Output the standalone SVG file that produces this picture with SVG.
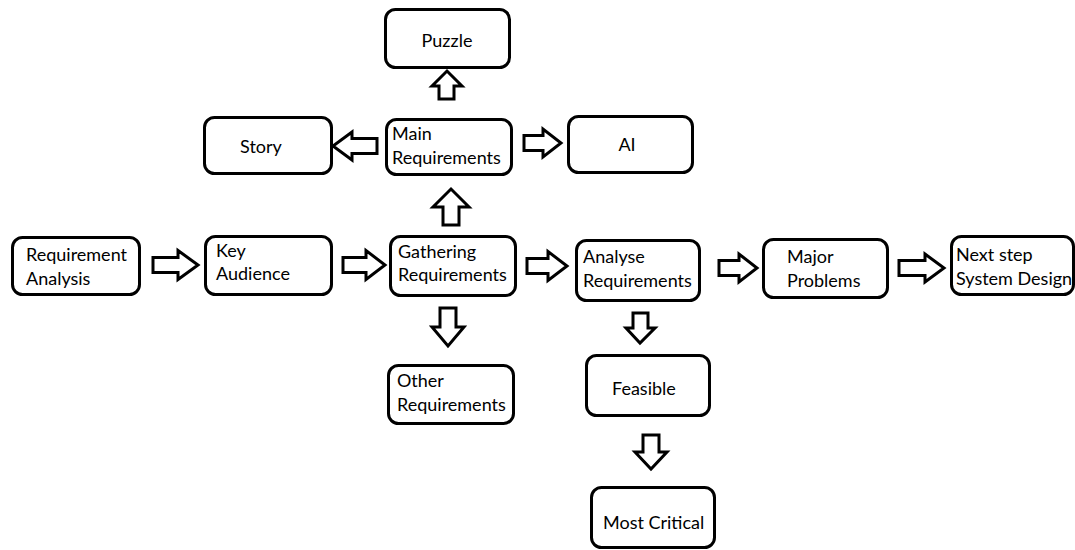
<svg xmlns="http://www.w3.org/2000/svg" width="1075" height="550" viewBox="0 0 1075 550">
<style>
.box{fill:#fff;stroke:#000;stroke-width:3}
.arr{fill:#fff;stroke:#000;stroke-width:3;stroke-linejoin:miter}
text{font-family:Lato,"Liberation Sans",sans-serif;font-size:18px;fill:#000}
.c{text-anchor:middle}
</style>
<rect width="1075" height="550" fill="#fff"/>
<g id="connectors">
<path class="arr" d="M153,257.5 H178 V250.5 L198,265 L178,279.5 V272.5 H153 Z"/>
<path class="arr" d="M343,257.5 H366 V250.5 L385,265 L366,279.5 V272.5 H343 Z"/>
<path class="arr" d="M527,258.5 H548 V251.5 L567,266 L548,280.5 V273.5 H527 Z"/>
<path class="arr" d="M719,260.5 H739 V254 L757,268 L739,282 V275.5 H719 Z"/>
<path class="arr" d="M899,260.5 H925 V254 L944,268 L925,282 V275.5 H899 Z"/>
<path class="arr" d="M524,135.5 H543 V129 L561,143 L543,157 V150.5 H524 Z"/>
<path class="arr" d="M377,138.5 H352 V132 L333,146 L352,160 V153.5 H377 Z"/>
<path class="arr" d="M443,225 V207 H433 L451,189 L469,207 H459 V225 Z"/>
<path class="arr" d="M439,99 V86 H432 L447,71 L462,86 H454 V99 Z"/>
<path class="arr" d="M440,308 V327 H432 L448,346 L464,327 H456 V308 Z"/>
<path class="arr" d="M633,313 V328 H626 L640,343 L655,328 H648 V313 Z"/>
<path class="arr" d="M643,435 V452 H635 L651,469 L667,452 H659 V435 Z"/>
</g>
<g id="puzzle"><rect class="box" x="385.5" y="9.5" width="124" height="58" rx="10"/><text class="c" x="447" y="47">Puzzle</text></g>
<g id="story"><rect class="box" x="204.5" y="117.5" width="127" height="56" rx="10"/><text class="c" x="261" y="153">Story</text></g>
<g id="main"><rect class="box" x="386.5" y="119.5" width="125" height="55" rx="10"/><text x="392" y="140">Main</text><text x="392" y="164">Requirements</text></g>
<g id="ai"><rect class="box" x="568.5" y="116.5" width="124" height="56" rx="10"/><text class="c" x="627" y="151">AI</text></g>
<g id="reqanalysis"><rect class="box" x="12.5" y="237.5" width="127" height="57" rx="10"/><text x="26" y="261">Requirement</text><text x="26" y="285">Analysis</text></g>
<g id="keyaudience"><rect class="box" x="205.5" y="236.5" width="126" height="58" rx="10"/><text x="216" y="257">Key</text><text x="216" y="280">Audience</text></g>
<g id="gathering"><rect class="box" x="390.5" y="236.5" width="125" height="59" rx="10"/><text x="398" y="258">Gathering</text><text x="398" y="281">Requirements</text></g>
<g id="analyse"><rect class="box" x="576.5" y="240.5" width="123" height="60" rx="10"/><text x="583" y="263">Analyse</text><text x="583" y="287">Requirements</text></g>
<g id="major"><rect class="box" x="763.5" y="239.5" width="124" height="58" rx="10"/><text x="787" y="263">Major</text><text x="787" y="287">Problems</text></g>
<g id="nextstep"><rect class="box" x="951.5" y="236.5" width="122" height="58" rx="10"/><text x="956" y="261">Next step</text><text x="956" y="285">System Design</text></g>
<g id="other"><rect class="box" x="388.5" y="365.5" width="125" height="58" rx="10"/><text x="397" y="387">Other</text><text x="397" y="411">Requirements</text></g>
<g id="feasible"><rect class="box" x="586.5" y="355.5" width="123" height="60" rx="10"/><text x="612" y="395">Feasible</text></g>
<g id="critical"><rect class="box" x="591.5" y="487.5" width="123" height="60" rx="10"/><text x="603" y="529">Most Critical</text></g>
</svg>
